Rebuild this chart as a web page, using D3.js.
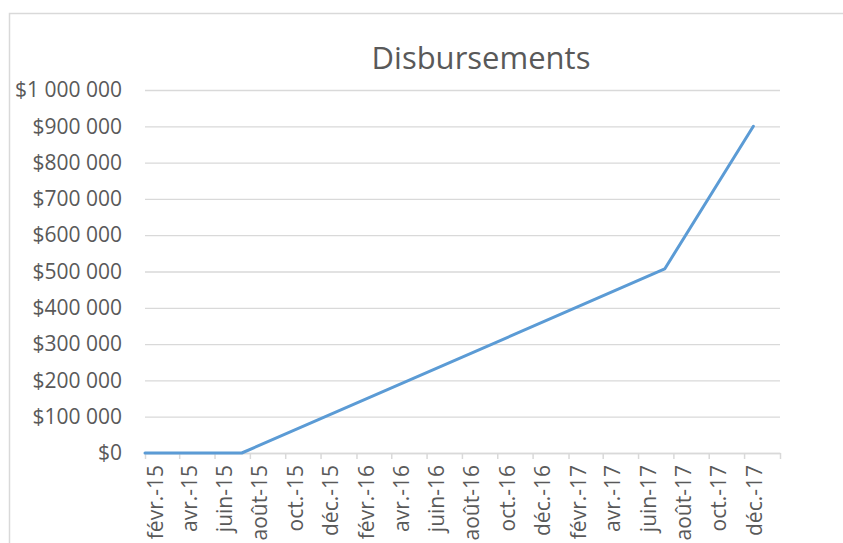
<!DOCTYPE html>
<html>
<head>
<meta charset="utf-8">
<script src="https://cdn.jsdelivr.net/npm/d3@7"></script>
<style>
    body { margin: 0; background: #fff; }
    text { font-family: "Open Sans", sans-serif; fill: #595959; }
</style>
</head>
<body>
<div id="chart"></div>
<script>
// data
const pointDates = ["2015-02-01", "2015-07-18", "2017-07-17", "2017-12-17"];
const pointValues = [0, 0, 507000, 900000];

const tickDates = ["2015-02-01", "2015-04-01", "2015-06-01", "2015-08-01", "2015-10-01", "2015-12-01",
    "2016-02-01", "2016-04-01", "2016-06-01", "2016-08-01", "2016-10-01", "2016-12-01",
    "2017-02-01", "2017-04-01", "2017-06-01", "2017-08-01", "2017-10-01", "2017-12-01", "2018-02-01"];
const tickLabels = ["févr.-15", "avr.-15", "juin-15", "août-15", "oct.-15", "déc.-15",
    "févr.-16", "avr.-16", "juin-16", "août-16", "oct.-16", "déc.-16",
    "févr.-17", "avr.-17", "juin-17", "août-17", "oct.-17", "déc.-17", ""];
const yTicks = [0, 100000, 200000, 300000, 400000, 500000, 600000, 700000, 800000, 900000, 1000000];

const chartTitle = "Disbursements";

const width = 843, height = 543;
const plot = { left: 145, right: 780, top: 90, bottom: 453 };

const parse = d3.timeParse("%Y-%m-%d");

const svg = d3.select("#chart").append("svg")
    .attr("width", width)
    .attr("height", height);

// chart area border (cut off on the right and bottom)
svg.append("rect")
    .attr("x", 9.5).attr("y", 13.5)
    .attr("width", 900).attr("height", 600)
    .attr("fill", "none")
    .attr("stroke", "#d9d9d9")
    .attr("stroke-width", 1.5);

svg.append("text")
    .attr("x", 481).attr("y", 69)
    .attr("text-anchor", "middle")
    .style("font-size", "31px")
    .text(chartTitle);

const x = d3.scaleTime()
    .domain([parse(tickDates[0]), parse(tickDates[tickDates.length - 1])])
    .range([plot.left, plot.right]);

const y = d3.scaleLinear()
    .domain([0, 1000000])
    .range([plot.bottom, plot.top]);

const fmt = v => "$" + d3.format(",")(v).replace(/,/g, " ");

// y axis with gridlines
const yAxis = svg.append("g")
    .attr("transform", "translate(" + plot.left + ",0)")
    .call(d3.axisLeft(y)
        .tickValues(yTicks)
        .tickSize(-(plot.right - plot.left))
        .tickPadding(23)
        .tickFormat(fmt));
yAxis.select(".domain").remove();
yAxis.selectAll(".tick line")
    .attr("stroke", "#d9d9d9")
    .attr("stroke-width", 1.3);
yAxis.selectAll(".tick text")
    .style("font-size", "21px")
    .attr("fill", "#595959");

// x axis
const xAxis = svg.append("g")
    .attr("transform", "translate(0," + plot.bottom + ")")
    .call(d3.axisBottom(x)
        .tickValues(tickDates.map(parse))
        .tickSize(6)
        .tickSizeOuter(0)
        .tickFormat((d, i) => tickLabels[i]));
xAxis.select(".domain")
    .attr("stroke", "#d9d9d9")
    .attr("stroke-width", 1.5);
xAxis.selectAll(".tick line")
    .attr("stroke", "#d9d9d9")
    .attr("stroke-width", 1.5);
xAxis.selectAll(".tick text")
    .attr("transform", "rotate(-90)")
    .attr("text-anchor", "end")
    .attr("x", -12)
    .attr("y", 17)
    .attr("dy", 0)
    .style("font-size", "21px")
    .attr("fill", "#595959");

const line = d3.line()
    .x((d, i) => x(parse(pointDates[i])))
    .y(d => y(d));

svg.append("path")
    .datum(pointValues)
    .attr("d", line)
    .attr("fill", "none")
    .attr("stroke", "#5b9bd5")
    .attr("stroke-width", 3)
    .attr("stroke-linejoin", "round")
    .attr("stroke-linecap", "round");
</script>
</body>
</html>
